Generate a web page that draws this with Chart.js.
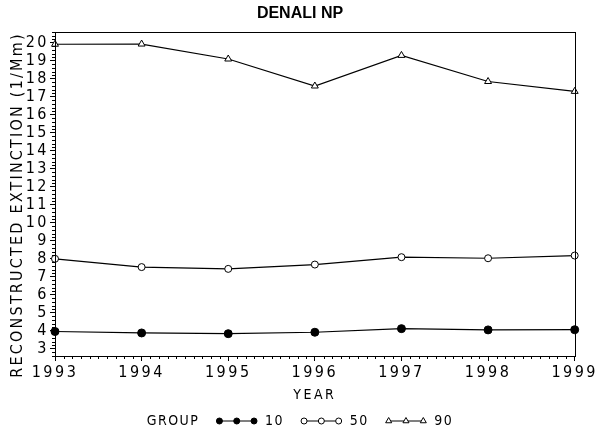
<!DOCTYPE html>
<html>
<head>
<meta charset="utf-8">
<script src="https://cdn.jsdelivr.net/npm/chart.js@4.4.1/dist/chart.umd.min.js"></script>
<style>
  html, body { margin: 0; padding: 0; background: #fff; }
  #wrap { width: 600px; height: 430px; }
</style>
</head>
<body>
<div id="wrap"><canvas id="grafico"></canvas></div>
<script>
// Dados
const anos = [1993, 1994, 1995, 1996, 1997, 1998, 1999];
const grupo10 = [3.96, 3.88, 3.84, 3.92, 4.12, 4.05, 4.06];
const grupo50 = [8.00, 7.54, 7.44, 7.68, 8.09, 8.03, 8.18];
const grupo90 = [19.92, 19.93, 19.10, 17.60, 19.30, 17.85, 17.30];
const ticksY = [3, 4, 5, 6, 7, 8, 9, 10, 11, 12, 13, 14, 15, 16, 17, 18, 19, 20];
const nomesGrupos = ['10', '50', '90'];

const fonteEstreita = "'Liberation Sans Narrow', 'DejaVu Sans Condensed', sans-serif";
const espacamento = '2.5px';

function pontos(valores) {
  return anos.map((ano, i) => ({ x: ano, y: valores[i] }));
}

// espaçamento entre letras, como no original
const pluginEspacamento = {
  id: 'espacamento',
  beforeInit: chart => { chart.ctx.letterSpacing = espacamento; },
  beforeLayout: chart => { chart.ctx.letterSpacing = espacamento; },
  beforeDraw: chart => { chart.ctx.letterSpacing = espacamento; }
};

function desenharMarcador(ctx, estilo, x, y) {
  ctx.fillStyle = estilo.fundo;
  ctx.strokeStyle = '#000';
  ctx.lineWidth = 1;
  Chart.helpers.drawPoint(ctx, { pointStyle: estilo.pointStyle, radius: estilo.raio, borderWidth: 1, rotation: 0 }, x, y);
}

// moldura, ticks menores, título, título do eixo Y e legenda
const pluginExtras = {
  id: 'extras',
  afterDraw(chart) {
    const ctx = chart.ctx;
    const { left, right, top, bottom } = chart.chartArea;
    const escX = chart.scales.x;
    const escY = chart.scales.y;

    ctx.save();
    ctx.strokeStyle = '#000';
    ctx.lineWidth = 1;
    ctx.strokeRect(Math.round(left) + 0.5, Math.round(top) + 0.5, Math.round(right - left), Math.round(bottom - top));

    ctx.beginPath();
    for (let i = anos[0] * 10; i <= anos[anos.length - 1] * 10; i++) {
      if (i % 10 === 0) continue;
      const px = Math.round(escX.getPixelForValue(i / 10)) + 0.5;
      ctx.moveTo(px, bottom);
      ctx.lineTo(px, bottom + 3);
    }
    for (let i = Math.ceil(escY.min * 5); i <= Math.floor(escY.max * 5 + 1e-9); i++) {
      if (i % 5 === 0) continue;
      const py = Math.round(escY.getPixelForValue(i / 5)) + 0.5;
      ctx.moveTo(left - 3, py);
      ctx.lineTo(left, py);
    }
    ctx.stroke();

    ctx.fillStyle = '#000';
    ctx.letterSpacing = '0px';
    ctx.font = "bold 16px 'Liberation Sans', Arial, sans-serif";
    ctx.textAlign = 'center';
    ctx.textBaseline = 'middle';
    ctx.fillText('DENALI NP', chart.width / 2, 14);

    ctx.save();
    ctx.letterSpacing = '2.2px';
    ctx.font = '16px ' + fonteEstreita;
    ctx.translate(18, (top + bottom) / 2 + 11);
    ctx.rotate(-Math.PI / 2);
    ctx.fillText('RECONSTRUCTED EXTINCTION (1/Mm)', 0, 0);
    ctx.restore();

    // legenda
    ctx.letterSpacing = '1.5px';
    ctx.font = '14px ' + fonteEstreita;
    ctx.textAlign = 'left';
    const yLeg = 421;
    const passo = 17.3;
    const itens = chart.data.datasets.map(ds => ({
      texto: ds.label,
      estilo: { pointStyle: ds.pointStyle, raio: ds.pointStyle === 'triangle' ? 3.5 : 3, fundo: ds.pointBackgroundColor }
    }));
    const larguraGrupo = ctx.measureText('GROUP').width;
    let total = larguraGrupo;
    itens.forEach(it => { total += 20 + 2 * passo + 11 + ctx.measureText(it.texto).width; });
    let x = chart.width / 2 - total / 2;
    ctx.fillText('GROUP', x, yLeg);
    x += larguraGrupo;
    itens.forEach(it => {
      const x0 = x + 20;
      ctx.beginPath();
      ctx.strokeStyle = '#000';
      ctx.lineWidth = 1;
      ctx.moveTo(x0, yLeg);
      ctx.lineTo(x0 + 2 * passo, yLeg);
      ctx.stroke();
      for (let k = 0; k < 3; k++) desenharMarcador(ctx, it.estilo, x0 + k * passo, yLeg);
      ctx.fillStyle = '#000';
      ctx.fillText(it.texto, x0 + 2 * passo + 11, yLeg);
      x = x0 + 2 * passo + 11 + ctx.measureText(it.texto).width;
    });
    ctx.restore();
  }
};

const estiloSerie = {
  borderColor: '#000',
  borderWidth: 1.2,
  pointBorderColor: '#000',
  pointBorderWidth: 1,
  pointHoverRadius: 4,
  tension: 0,
  clip: false
};

const ctx = document.getElementById('grafico').getContext('2d');
new Chart(ctx, {
  type: 'line',
  data: {
    datasets: [
      { ...estiloSerie, label: nomesGrupos[0], data: pontos(grupo10), pointStyle: 'circle', pointRadius: 4, pointBackgroundColor: '#000' },
      { ...estiloSerie, label: nomesGrupos[1], data: pontos(grupo50), pointStyle: 'circle', pointRadius: 3.5, pointBackgroundColor: '#fff' },
      { ...estiloSerie, label: nomesGrupos[2], data: pontos(grupo90), pointStyle: 'triangle', pointRadius: 4, pointBackgroundColor: '#fff' }
    ]
  },
  options: {
    responsive: true,
    maintainAspectRatio: false,
    animation: false,
    layout: { padding: { top: 32, right: 22, left: 0, bottom: 0 } },
    plugins: {
      legend: { display: false },
      title: { display: false },
      tooltip: { enabled: false }
    },
    scales: {
      x: {
        type: 'linear',
        min: anos[0],
        max: anos[anos.length - 1],
        afterBuildTicks: escala => { escala.ticks = anos.map(v => ({ value: v })); },
        afterFit: escala => { escala.height = 74; },
        grid: { drawOnChartArea: false, tickLength: 5, tickColor: '#000', tickWidth: 1 },
        border: { display: true, color: '#000', width: 1 },
        ticks: {
          color: '#000',
          font: { family: fonteEstreita, size: 16 },
          padding: 2,
          maxRotation: 0,
          autoSkip: false,
          callback: v => String(v)
        },
        title: {
          display: true,
          text: 'YEAR',
          color: '#000',
          font: { family: fonteEstreita, size: 14 },
          padding: { top: 0, bottom: 26 }
        }
      },
      y: {
        min: 2.6,
        max: 20.6,
        afterBuildTicks: escala => { escala.ticks = ticksY.map(v => ({ value: v })); },
        afterFit: escala => { escala.width = 55; },
        grid: { drawOnChartArea: false, tickLength: 5, tickColor: '#000', tickWidth: 1 },
        border: { display: true, color: '#000', width: 1 },
        ticks: {
          color: '#000',
          font: { family: fonteEstreita, size: 16 },
          padding: 1,
          autoSkip: false,
          callback: v => String(v)
        }
      }
    }
  },
  plugins: [pluginEspacamento, pluginExtras]
});
</script>
</body>
</html>
